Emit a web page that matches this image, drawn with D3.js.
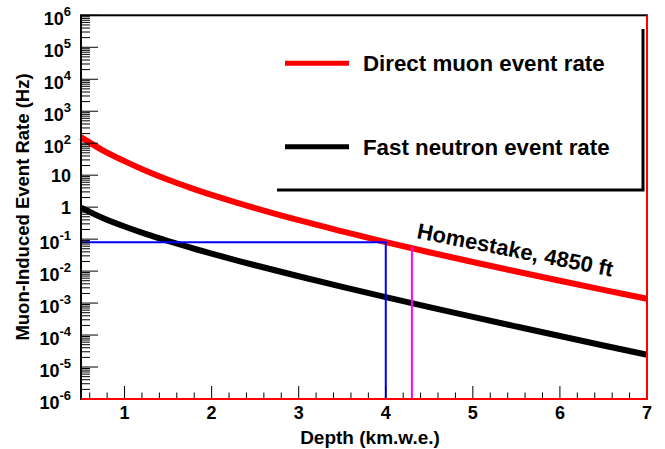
<!DOCTYPE html>
<html><head><meta charset="utf-8">
<script src="https://cdn.jsdelivr.net/npm/d3@7"></script>
<style>
body{margin:0;background:#fff}
text{font-family:"Liberation Sans",Arial,Helvetica,sans-serif;font-weight:bold;fill:#000}
</style>
</head><body>
<svg id="c" width="665" height="449"></svg>
<script>
// ---- data ----
const depth = [0.5, 0.75, 1, 1.25, 1.5, 1.75, 2, 2.5, 3, 3.5, 4, 4.5, 5, 5.5, 6, 6.5, 7];
const muonRate = [155, 60, 27.5, 13.5, 7.2, 4.1, 2.42, 0.93, 0.39, 0.175, 0.0805, 0.0389, 0.0193, 0.0097, 0.00498, 0.00259, 0.00136];
const neutronRate = [0.97, 0.459, 0.248, 0.1433, 0.0874, 0.0548, 0.0352, 0.01522, 0.00689, 0.00322, 0.00154, 7.5e-4, 3.70e-4, 1.85e-4, 9.32e-5, 4.73e-5, 2.42e-5];
const xTicks = [1, 2, 3, 4, 5, 6, 7];
const yTickExps = [6, 5, 4, 3, 2, 1, 0, -1, -2, -3, -4, -5, -6];
const seriesNames = ["Direct muon event rate", "Fast neutron event rate"];
const seriesColors = ["#ff0000", "#000000"];
const markDepth = 4.0, markRate = 0.0805;
const homestakeDepth = 4.3, homestakeRate = 0.058;
const annotation = "Homestake, 4850 ft";
const xTitle = "Depth (km.w.e.)";
const yTitle = "Muon-Induced Event Rate (Hz)";

// ---- layout ----
const svg = d3.select("#c");
const L = 81, R = 647, T = 15.3, B = 399;
const x = d3.scaleLinear().domain([0.5, 7]).range([L, R]);
const y = d3.scaleLog().domain([1e-6, 1e6]).range([B, T]);

// curves
const series = [muonRate, neutronRate];
const line = d3.line().x(d => x(d[0])).y(d => y(d[1])).curve(d3.curveCatmullRom.alpha(0.5));
series.forEach((vals, i) => {
  svg.append("path")
    .attr("d", line(depth.map((d, j) => [d, vals[j]])))
    .attr("fill", "none").attr("stroke", seriesColors[i]).attr("stroke-width", 6);
});

// blue marker lines (4 km.w.e.)
svg.append("path")
  .attr("d", `M${x(0.5)},${y(markRate)}H${x(markDepth)}V${y(1e-6)}`)
  .attr("fill", "none").attr("stroke", "#0000ff").attr("stroke-width", 2);
// magenta Homestake line
svg.append("line")
  .attr("x1", x(homestakeDepth)).attr("x2", x(homestakeDepth))
  .attr("y1", y(homestakeRate)).attr("y2", y(1e-6))
  .attr("stroke", "#ff00ff").attr("stroke-width", 2);

// axes ticks
const gx = svg.append("g");
d3.range(0.6, 7.0001, 0.2).forEach(v => {
  const major = Math.abs(v - Math.round(v)) < 1e-6;
  gx.append("line").attr("x1", x(v)).attr("x2", x(v))
    .attr("y1", B).attr("y2", B - (major ? 13 : 6.5))
    .attr("stroke", "#000").attr("stroke-width", 1);
});
xTicks.forEach(v => {
  gx.append("text").attr("x", x(v)).attr("y", 419).attr("text-anchor", "middle")
    .style("font-size", "18px").text(v);
});
const gy = svg.append("g");
yTickExps.forEach(e => {
  gy.append("line").attr("x1", L).attr("x2", L + 17).attr("y1", y(Math.pow(10, e))).attr("y2", y(Math.pow(10, e)))
    .attr("stroke", "#000").attr("stroke-width", 1);
  if (e > -6) {
    for (let m = 2; m <= 9; m++) {
      const yy = y(m * Math.pow(10, e - 1));
      gy.append("line").attr("x1", L).attr("x2", L + 9).attr("y1", yy).attr("y2", yy)
        .attr("stroke", "#000").attr("stroke-width", 1);
    }
  }
  const yy = y(Math.pow(10, e));
  const t = gy.append("text").attr("text-anchor", "end").style("font-size", "18px");
  if (e === 0) { t.attr("x", 71).attr("y", yy + 6.5).text("1"); }
  else if (e === 1) { t.attr("x", 71).attr("y", yy + 6.5).text("10"); }
  else {
    t.attr("x", 71).attr("y", yy + 9.5);
    t.append("tspan").text("10");
    t.append("tspan").attr("dy", -8.5).style("font-size", "13px").text(String(e));
  }
});

// frame
svg.append("rect").attr("x", L).attr("y", T).attr("width", R - L).attr("height", B - T)
  .attr("fill", "none").attr("stroke", "#000").attr("stroke-width", 2);
svg.append("path").attr("d", `M${L},${B}H${R}V${T}`)
  .attr("fill", "none").attr("stroke", "#ff0000").attr("stroke-width", 2);

// legend (shadow lines only)
svg.append("path").attr("d", "M277,190H643V29").attr("fill", "none").attr("stroke", "#000").attr("stroke-width", 3);
const legY = [63.3, 146.7];
seriesNames.forEach((n, i) => {
  svg.append("line").attr("x1", 285).attr("x2", 349).attr("y1", legY[i]).attr("y2", legY[i])
    .attr("stroke", seriesColors[i]).attr("stroke-width", 5);
  svg.append("text").attr("x", 363).attr("y", legY[i] + 8).style("font-size", "22.3px").text(n);
});

// annotation
svg.append("text").attr("transform", "translate(416,238) rotate(11.2)")
  .style("font-size", "22px").text(annotation);

// titles
svg.append("text").attr("x", 370).attr("y", 444).attr("text-anchor", "middle").style("font-size", "19px").text(xTitle);
svg.append("text").attr("transform", "translate(29,207) rotate(-90)").attr("text-anchor", "middle")
  .style("font-size", "18.5px").text(yTitle);
</script>
</body></html>
